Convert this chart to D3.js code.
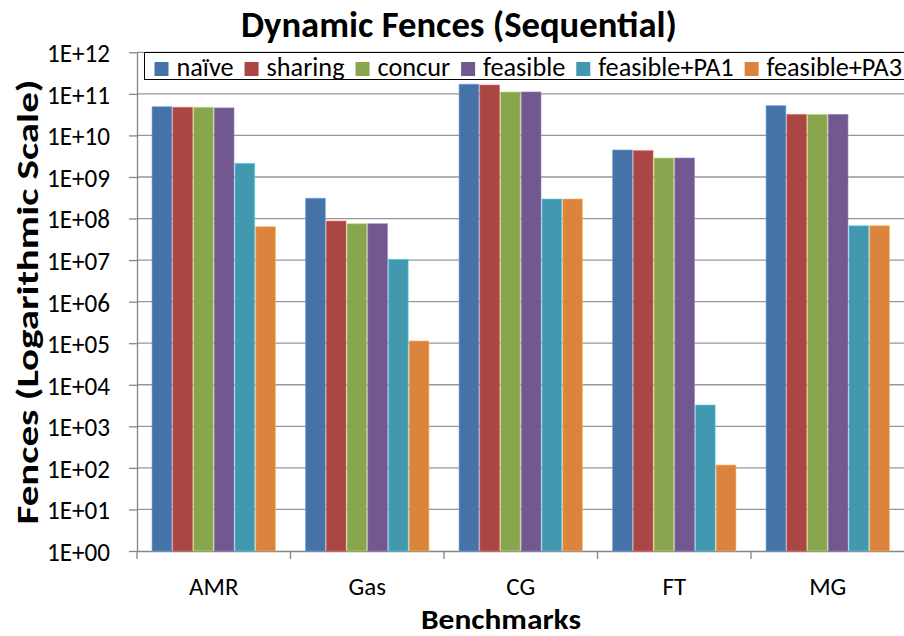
<!DOCTYPE html>
<html>
<head>
<meta charset="utf-8">
<script src="https://cdn.jsdelivr.net/npm/d3@7/dist/d3.min.js"></script>
<style>
  html, body { margin: 0; padding: 0; background: #fff; }
  svg { display: block; }
  text { font-family: Carlito, Lato, "Open Sans", sans-serif; fill: #000; }
</style>
</head>
<body>
<svg id="chart" width="904" height="636"></svg>
<script>
// Benchmarks on the x axis
const benchmarks = ["AMR", "Gas", "CG", "FT", "MG"];

// Fence-insertion variants (one bar per variant in each group)
const series = ["naïve", "sharing", "concur", "feasible", "feasible+PA1", "feasible+PA3"];
const seriesColors = ["#4572A7", "#AA4643", "#89A54E", "#71588F", "#4198AF", "#DB843D"];

// Dynamic fence counts, one array per variant, in benchmark order
const naive       = [4.9e10, 3.07e8, 1.70e11, 4.45e9, 5.2e10];
const sharing     = [4.75e10, 8.7e7, 1.63e11, 4.3e9, 3.2e10];
const concur      = [4.75e10, 7.5e7, 1.11e11, 2.86e9, 3.2e10];
const feasible    = [4.6e10, 7.5e7, 1.11e11, 2.86e9, 3.2e10];
const feasiblePA1 = [2.13e9, 1.04e7, 2.95e8, 3.26e3, 6.7e7];
const feasiblePA3 = [6.36e7, 1.13e5, 2.95e8, 117, 6.7e7];
const seriesValues = [naive, sharing, concur, feasible, feasiblePA1, feasiblePA3];

// Logarithmic y-axis ticks and their labels
const yTicks = [1e0, 1e1, 1e2, 1e3, 1e4, 1e5, 1e6, 1e7, 1e8, 1e9, 1e10, 1e11, 1e12];
const yTickLabels = ["1E+00", "1E+01", "1E+02", "1E+03", "1E+04", "1E+05", "1E+06",
                     "1E+07", "1E+08", "1E+09", "1E+10", "1E+11", "1E+12"];

const title = "Dynamic Fences (Sequential)";
const xTitle = "Benchmarks";
const yTitle = "Fences (Logarithmic Scale)";

// ---- layout ----
const svg = d3.select("#chart");
const plot = { left: 137, right: 904.5, top: 52.3, bottom: 551 };
const gridColor = "#868686";

const x = d3.scaleBand().domain(benchmarks)
  .range([plot.left, plot.right]).paddingInner(0.19).paddingOuter(0.095);
const xSub = d3.scaleBand().domain(series).range([0, x.bandwidth()]);
const y = d3.scaleLog().domain([1, 1e12]).range([plot.bottom, plot.top]);
const color = d3.scaleOrdinal().domain(series).range(seriesColors);

// Set a text's advance width exactly (the glyphs are stretched or squeezed)
function setWidth(sel, target) {
  sel.attr("textLength", target).attr("lengthAdjust", "spacingAndGlyphs");
  return sel;
}

// Horizontal gridlines at each decade
svg.append("g")
  .selectAll("line").data(yTicks.slice(1)).join("line")
  .attr("x1", plot.left).attr("x2", plot.right)
  .attr("y1", d => y(d)).attr("y2", d => y(d))
  .attr("stroke", gridColor).attr("stroke-width", 1.3).attr("opacity", 0.85);

// Y axis
const yAxis = d3.axisLeft(y).tickValues(yTicks)
  .tickFormat((d, i) => yTickLabels[i]).tickSizeInner(8).tickSizeOuter(0).tickPadding(19);
const gy = svg.append("g").attr("transform", `translate(${plot.left},0)`).call(yAxis)
  .attr("font-family", null).attr("font-size", null);
gy.select(".domain").attr("stroke", gridColor).attr("stroke-width", 1.3);
gy.selectAll(".tick line").attr("stroke", gridColor).attr("stroke-width", 1.3);
gy.selectAll(".tick text").attr("font-size", 26).attr("dy", "0.36em");
setWidth(gy.selectAll(".tick text"), 63);

// X axis: ticks at the category boundaries
const xAxis = d3.axisBottom(x).tickSize(0).tickPadding(26);
const gx = svg.append("g").attr("transform", `translate(0,${plot.bottom})`).call(xAxis)
  .attr("font-family", null).attr("font-size", null);
gx.select(".domain").attr("stroke", gridColor).attr("stroke-width", 1.3);
gx.selectAll(".tick text").attr("font-size", 25);
const step = x.step();
const boundaries = d3.range(benchmarks.length).map(i => x(benchmarks[i]) - x.paddingInner() * step / 2);
gx.append("g").selectAll("line").data(boundaries).join("line")
  .attr("x1", d => d).attr("x2", d => d).attr("y1", 0).attr("y2", 8)
  .attr("stroke", gridColor).attr("stroke-width", 1.3);

// Bars
const groups = svg.append("g").selectAll("g").data(benchmarks).join("g")
  .attr("transform", d => `translate(${x(d)},0)`);
groups.selectAll("rect")
  .data((b, bi) => series.map((s, si) => ({ s, v: seriesValues[si][bi] })))
  .join("rect")
  .attr("x", d => xSub(d.s) + 0.5)
  .attr("width", xSub.bandwidth() - 1)
  .attr("y", d => y(d.v))
  .attr("height", d => plot.bottom - y(d.v))
  .attr("fill", d => color(d.s))
  .attr("stroke", d => d3.color(color(d.s)).brighter(0.9))
  .attr("stroke-opacity", 0.6)
  .attr("stroke-width", 1);

// Legend
const legend = svg.append("g");
legend.append("rect")
  .attr("x", 144.5).attr("y", 52.5).attr("width", 800).attr("height", 27)
  .attr("fill", "#fff").attr("stroke", "#000").attr("stroke-width", 1);
const items = legend.selectAll("g").data(series).join("g");
const labels = items.append("text").attr("font-size", 26).attr("y", 76).text(d => d);
const textTotal = d3.sum(labels.nodes(), n => n.getComputedTextLength());
const swatchStep = 22, itemGap = 11, legendStart = 154.5, legendEnd = 902;
const avail = legendEnd - legendStart - series.length * swatchStep - (series.length - 1) * itemGap;
const k = avail / textTotal;
let cx = legendStart;
items.each(function (d) {
  const g = d3.select(this);
  g.insert("rect", "text").attr("x", cx).attr("y", 62).attr("width", 14).attr("height", 14)
    .attr("fill", color(d));
  const t = g.select("text").attr("x", cx + swatchStep);
  const w = t.node().getComputedTextLength() * k;
  setWidth(t, w);
  cx += swatchStep + w + itemGap;
});

// Titles
setWidth(svg.append("text").attr("x", 459).attr("y", 37).attr("text-anchor", "middle")
  .attr("font-size", 37).attr("font-weight", "bold").text(title), 436);
setWidth(svg.append("text").attr("x", 501).attr("y", 629).attr("text-anchor", "middle")
  .attr("font-size", 28).attr("font-weight", "bold").text(xTitle), 160);
setWidth(svg.append("text").attr("transform", "translate(38,302) rotate(-90)")
  .attr("text-anchor", "middle").attr("font-size", 31).attr("font-weight", "bold").text(yTitle), 445);
</script>
</body>
</html>
